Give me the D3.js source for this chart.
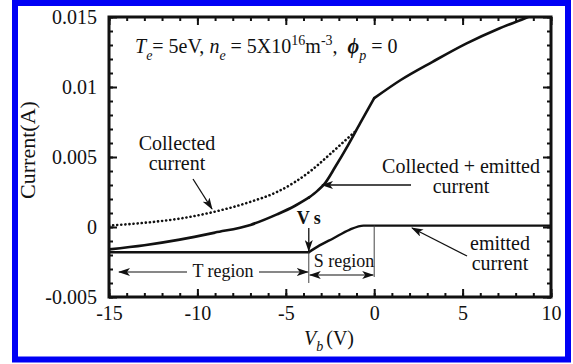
<!DOCTYPE html>
<html>
<head>
<meta charset="utf-8">
<script src="https://cdn.jsdelivr.net/npm/d3@7"></script>
<style>
  html, body { margin: 0; padding: 0; background: #fff; }
  svg text { font-family: "Liberation Serif", "Times New Roman", serif; fill: #111; white-space: pre; }
</style>
</head>
<body>
<svg id="chart" width="573" height="364"></svg>
<script>
// Probe bias voltage (V) and currents (A)
const vbSum = [-15, -13, -11, -9, -7, -5.5, -4.5, -3.7, -3.2, -2.8, -2.2, -1.5, -0.8, 0, 1.5, 3.3, 5.2, 7.1, 8.7, 10];
const iSum  = [-0.0016, -0.0013, -0.0009, -0.0004, 0.00015, 0.0009, 0.0015, 0.0021, 0.0026, 0.0031, 0.0043, 0.0058, 0.0074, 0.0092, 0.0105, 0.0118, 0.0131, 0.0142, 0.0150, 0.0158];

const vbCollected = [-15, -13, -11, -9, -7, -5.5, -4.5, -3.5, -2.5, -1.8, -1.0];
const iCollected  = [0.0001, 0.0003, 0.0006, 0.0011, 0.0018, 0.0025, 0.0032, 0.0041, 0.0052, 0.0060, 0.0069];

const vbEmitted = [-15, -3.7, -3.2, -2.3, -1.4, -0.6, 0, 10];
const iEmitted  = [-0.0018, -0.0018, -0.0014, -0.0008, -0.0002, 0.0001, 0.0001, 0.0001];

// Sheath edge (Vs) and zero bias: slope breaks of the curves
const vs = -3.7;
const kinks = [vs, 0];

const xTicks = [-15, -10, -5, 0, 5, 10];
const xTickLabels = ["-15", "-10", "-5", "0", "5", "10"];
const yTicks = [-0.005, 0, 0.005, 0.01, 0.015];
const yTickLabels = ["-0.005", "0", "0.005", "0.01", "0.015"];

const svg = d3.select("#chart");
const x = d3.scaleLinear().domain([-15, 10]).range([109, 551]);
const y = d3.scaleLinear().domain([-0.005, 0.015]).range([297, 17]);
const [x0, x1] = x.range();
const [y0, y1] = y.range();

// outer blue frame
svg.append("rect").attr("x", 15).attr("y", 3).attr("width", 553).attr("height", 356.5)
  .attr("fill", "none").attr("stroke", "#0000f5").attr("stroke-width", 6);

const defs = svg.append("defs");
defs.append("clipPath").attr("id", "plot-clip").append("rect")
  .attr("x", x0).attr("y", y1).attr("width", x1 - x0).attr("height", y0 - y1);
defs.append("marker").attr("id", "arrow").attr("viewBox", "0 0 12 8")
  .attr("refX", 11).attr("refY", 4).attr("markerWidth", 12).attr("markerHeight", 8)
  .attr("markerUnits", "userSpaceOnUse").attr("orient", "auto-start-reverse")
  .append("path").attr("d", "M0,0 L12,4 L0,8 L3,4 Z").attr("fill", "#111");

// ticks: minor every 1 V / 1 mA, major every 5
const xMinor = d3.range(-15, 10.001, 1);
const yMinor = d3.range(-5, 15.001, 1).map(v => v / 1000);
const axes = svg.append("g").attr("class", "axes");

function tickAxis(axisFn, scale, values, size, pad, transform, labels) {
  const a = axisFn(scale).tickValues(values).tickSizeInner(size).tickSizeOuter(0).tickPadding(pad);
  a.tickFormat(labels ? (d, i) => labels[i] : () => "");
  const g = axes.append("g").attr("transform", transform).call(a);
  g.select(".domain").remove();
  g.selectAll(".tick line").attr("stroke", "#111").attr("stroke-width", 2);
  g.selectAll("text").attr("font-size", 20).attr("fill", "#111")
    .style("font-family", '"Liberation Serif", "Times New Roman", serif');
  return g;
}
tickAxis(d3.axisBottom, x, xMinor, -4, 0, `translate(0,${y0})`);
tickAxis(d3.axisBottom, x, xTicks, -8, 9, `translate(0,${y0})`, xTickLabels);
tickAxis(d3.axisTop, x, xMinor, -4, 0, `translate(0,${y1})`);
tickAxis(d3.axisTop, x, xTicks, -8, 0, `translate(0,${y1})`);
tickAxis(d3.axisLeft, y, yMinor, -4, 0, `translate(${x0},0)`);
tickAxis(d3.axisLeft, y, yTicks, -8, 12, `translate(${x0},0)`, yTickLabels);
tickAxis(d3.axisRight, y, yMinor, -4, 0, `translate(${x1},0)`);
tickAxis(d3.axisRight, y, yTicks, -8, 0, `translate(${x1},0)`);

axes.append("rect").attr("x", x0).attr("y", y1).attr("width", x1 - x0).attr("height", y0 - y1)
  .attr("fill", "none").attr("stroke", "#111").attr("stroke-width", 3);

// split a series into pieces at the slope breaks
function pieces(vb, cur, breaks) {
  const pts = vb.map((v, i) => [v, cur[i]]);
  const edges = [-Infinity, ...breaks.filter(b => b > vb[0] && b < vb[vb.length - 1]), Infinity];
  const out = [];
  for (let k = 0; k < edges.length - 1; k++) {
    out.push(pts.filter(p => p[0] >= edges[k] && p[0] <= edges[k + 1]));
  }
  return out;
}
const line = d3.line().x(d => x(d[0])).y(d => y(d[1])).curve(d3.curveMonotoneX);
const curves = svg.append("g").attr("clip-path", "url(#plot-clip)");

curves.append("path").datum(vbCollected.map((v, i) => [v, iCollected[i]]))
  .attr("d", line).attr("fill", "none").attr("stroke", "#111").attr("stroke-width", 2.6)
  .attr("stroke-dasharray", "0.1 4").attr("stroke-linecap", "round");

pieces(vbSum, iSum, kinks).forEach(p => {
  curves.append("path").datum(p).attr("d", line).attr("fill", "none")
    .attr("stroke", "#111").attr("stroke-width", 2.6).attr("stroke-linecap", "round");
});
pieces(vbEmitted, iEmitted, [vs]).forEach(p => {
  curves.append("path").datum(p).attr("d", line).attr("fill", "none")
    .attr("stroke", "#111").attr("stroke-width", 2.4).attr("stroke-linecap", "round");
});

// parameter line
const t = svg.append("text").attr("x", 135).attr("y", 53).attr("font-size", 20);
t.append("tspan").attr("font-style", "italic").text("T");
t.append("tspan").attr("font-style", "italic").attr("font-size", 14).attr("dy", 7).text("e");
t.append("tspan").attr("dy", -7).text("= 5eV, ");
t.append("tspan").attr("font-style", "italic").text("n");
t.append("tspan").attr("font-style", "italic").attr("font-size", 14).attr("dy", 7).text("e");
t.append("tspan").attr("dy", -7).text(" = 5X10");
t.append("tspan").attr("font-size", 14).attr("dy", -8).text("16");
t.append("tspan").attr("dy", 8).text("m");
t.append("tspan").attr("font-size", 14).attr("dy", -8).text("-3");
t.append("tspan").attr("dy", 8).text(",  ");
t.append("tspan").attr("font-style", "italic").attr("font-weight", "bold").text("\u03D5");
t.append("tspan").attr("font-style", "italic").attr("font-size", 14).attr("dy", 7).text("p");
t.append("tspan").attr("dy", -7).text(" = 0");

// axis titles
svg.append("text").attr("transform", "translate(35,150) rotate(-90)")
  .attr("text-anchor", "middle").attr("font-size", 22).text("Current(A)");
const xl = svg.append("text").attr("x", 304).attr("y", 345).attr("font-size", 20);
xl.append("tspan").attr("font-style", "italic").text("V");
xl.append("tspan").attr("font-style", "italic").attr("font-size", 14).attr("dy", 6).text("b");
xl.append("tspan").attr("dy", -6).attr("dx", 3).text("(V)");

// annotations
const ann = svg.append("g");
function label(lines, cx, by, size, gap) {
  lines.forEach((s, i) => ann.append("text").attr("x", cx).attr("y", by + i * gap)
    .attr("text-anchor", "middle").attr("font-size", size).text(s));
}
function arrow(xa, ya, xb, yb, w, both) {
  const l = ann.append("line").attr("x1", xa).attr("y1", ya).attr("x2", xb).attr("y2", yb)
    .attr("stroke", "#111").attr("stroke-width", w).attr("marker-end", "url(#arrow)");
  if (both) l.attr("marker-start", "url(#arrow)");
}
label(["Collected", "current"], 177, 150, 20, 20);
arrow(193, 179, 212, 209, 1.3);
label(["Collected + emitted", "current"], 461, 173, 20, 20);
arrow(411, 185, 322, 185, 1.3);
label(["emitted", "current"], 500, 250, 20, 20);
arrow(467, 256, 412, 228, 1.3);

ann.append("text").attr("x", x(vs)).attr("y", 224).attr("text-anchor", "middle")
  .attr("font-size", 18).attr("font-weight", "bold").text("V s");
arrow(x(vs), 228, x(vs), 251, 1.3);

// region markers
ann.append("line").attr("x1", x(vs)).attr("x2", x(vs)).attr("y1", y(iEmitted[1])).attr("y2", 283)
  .attr("stroke", "#444").attr("stroke-width", 1);
ann.append("line").attr("x1", x(0)).attr("x2", x(0)).attr("y1", y(0.0001)).attr("y2", 277)
  .attr("stroke", "#444").attr("stroke-width", 1);

ann.append("line").attr("x1", 187).attr("y1", 272).attr("x2", 119).attr("y2", 272)
  .attr("stroke", "#111").attr("stroke-width", 1.2).attr("marker-end", "url(#arrow)");
ann.append("line").attr("x1", 259).attr("y1", 272).attr("x2", x(vs) - 1).attr("y2", 272)
  .attr("stroke", "#111").attr("stroke-width", 1.2).attr("marker-end", "url(#arrow)");
ann.append("text").attr("x", 223).attr("y", 277).attr("text-anchor", "middle")
  .attr("font-size", 18).text("T region");

arrow(x(vs) + 1, 275, x(0) - 1, 275, 1.2, true);
ann.append("text").attr("x", 344).attr("y", 267).attr("text-anchor", "middle")
  .attr("font-size", 18).text("S region");
</script>
</body>
</html>
